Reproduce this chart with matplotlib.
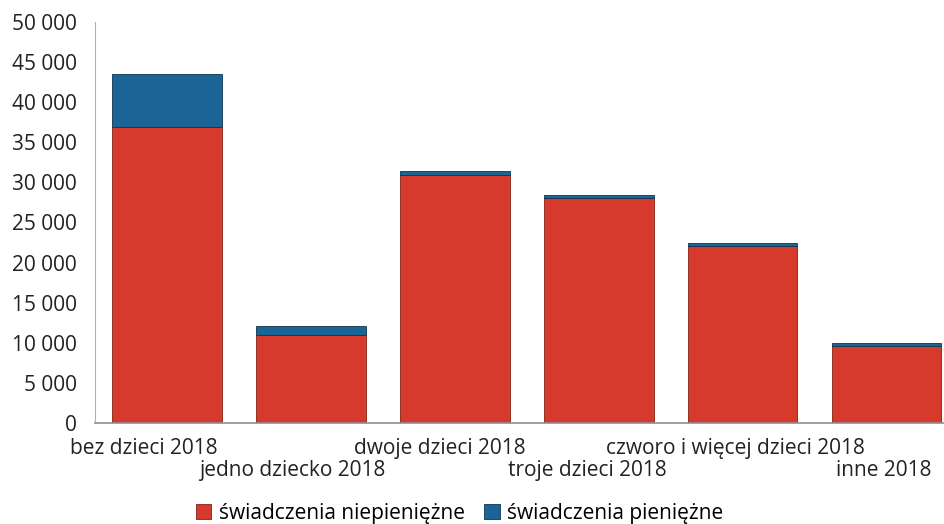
import numpy as np
import matplotlib.pyplot as plt
from matplotlib.ticker import FuncFormatter, MultipleLocator

plt.rcParams['font.family'] = ['Open Sans', 'DejaVu Sans']

# dane
kategorie = ['bez dzieci 2018', 'jedno dziecko 2018', 'dwoje dzieci 2018',
             'troje dzieci 2018', 'czworo i więcej dzieci 2018', 'inne 2018']
niepieniezne = [36900, 10900, 30900, 28000, 22100, 9600]
pieniezne = [6600, 1200, 500, 400, 300, 300]

red = '#d63a2c'
blue = '#1b6596'

fig = plt.figure(figsize=(9.44, 5.24), dpi=100)
ax = fig.add_axes([0.1006, 0.193, 0.915, 0.765])

x = np.arange(len(kategorie))
ax.bar(x, niepieniezne, width=0.76, color=red, edgecolor='#8a1f1a', linewidth=0.6,
       label='świadczenia niepieniężne')
ax.bar(x, pieniezne, width=0.76, bottom=niepieniezne, color=blue, edgecolor='#0d3550',
       linewidth=0.6, label='świadczenia pieniężne')

ax.set_xlim(-0.5, len(kategorie) - 0.5)
ax.set_ylim(0, 50000)
ax.yaxis.set_major_locator(MultipleLocator(5000))
ax.yaxis.set_major_formatter(FuncFormatter(lambda v, p: f'{int(v):,}'.replace(',', ' ')))

# etykiety lekko przesunięte w lewo względem słupków
przesuniecie = (-13 + 4 * (x - 2.5)) / 144
ax.set_xticks(x + przesuniecie)
ax.set_xticklabels(kategorie, fontsize=15, color='#222222')
for i, t in enumerate(ax.xaxis.get_major_ticks()):
    t.set_pad(11 if i % 2 == 0 else 27)
ax.tick_params(axis='both', length=0)
ax.tick_params(axis='y', labelsize=15, labelcolor='#222222', pad=13)

for s in ['top', 'right']:
    ax.spines[s].set_visible(False)
ax.spines['left'].set_color('#b0b0b0')
ax.spines['bottom'].set_color('#909090')
ax.spines['bottom'].set_linewidth(1.2)

fig.legend(loc='lower center', bbox_to_anchor=(0.487, -0.035), ncol=2, frameon=False,
           fontsize=15, handlelength=0.75, handleheight=0.75, handletextpad=0.35,
           columnspacing=0.95)

fig.savefig('out.png', dpi=100)
